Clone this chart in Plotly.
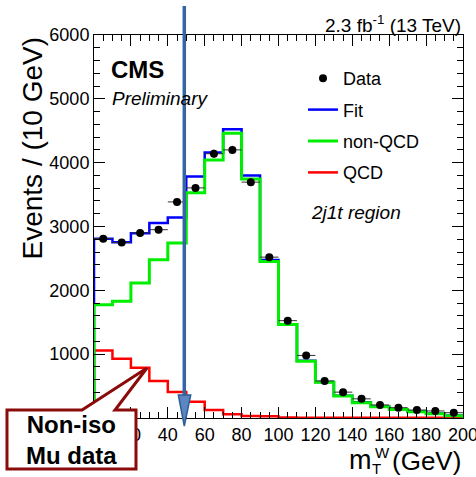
import plotly.graph_objects as go

# ---------------- data ----------------
bin_edges = [0, 10, 20, 30, 40, 50, 60, 70, 80, 90, 100,
             110, 120, 130, 140, 150, 160, 170, 180, 190, 200]
bin_centers = [5, 15, 25, 35, 45, 55, 65, 75, 85, 95,
               105, 115, 125, 135, 145, 155, 165, 175, 185, 195]

data_vals = [2810, 2750, 2900, 2950, 3385, 3605, 4140, 4200, 3695, 2520,
             1525, 980, 580, 405, 300, 205, 162, 125, 110, 83]
data_err = [53, 52, 54, 54, 58, 60, 64, 65, 61, 50,
            39, 31, 24, 20, 17, 14, 13, 11, 10, 9]
fit_vals = [2810, 2755, 2895, 3055, 3140, 3785, 4160, 4525, 3800, 2475,
            1470, 895, 565, 350, 245, 180, 137, 102, 72, 38]
nonqcd_vals = [1775, 1830, 2115, 2480, 2740, 3530, 4040, 4460, 3745, 2450,
               1465, 890, 560, 345, 240, 177, 133, 98, 68, 35]
qcd_vals = [1057, 927, 786, 578, 406, 255, 125, 60, 32, 28,
            6, 5, 5, 4, 4, 3, 3, 2, 2, 2]

x_ticks = [0, 20, 40, 60, 80, 100, 120, 140, 160, 180, 200]
x_ticklabels = ["", "20", "40", "60", "80", "100", "120", "140", "160", "180", "200"]
y_ticks = [0, 1000, 2000, 3000, 4000, 5000, 6000]
y_ticklabels = ["", "1000", "2000", "3000", "4000", "5000", "6000"]

FONT = "Liberation Sans, Arial, Helvetica, sans-serif"


def step_xy(edges, vals):
    xs = [edges[0]] + list(edges) + [edges[-1]]
    ys = [0] + list(vals) + [vals[-1], 0]
    return xs, ys


fig = go.Figure()

for name, vals, color, width, rank in [
    ("QCD", qcd_vals, "#ff0000", 2.5, 4),
    ("Fit", fit_vals, "#0000ff", 2.5, 2),
    ("non-QCD", nonqcd_vals, "#00ee00", 3, 3),
]:
    xs, ys = step_xy(bin_edges, vals)
    fig.add_trace(go.Scatter(
        x=xs, y=ys, mode="lines", name=name, line_shape="hv",
        line=dict(color=color, width=width), legendrank=rank,
        legendgroup=name,
    ))

fig.add_trace(go.Scatter(
    x=bin_centers, y=data_vals, mode="markers", name="Data",
    marker=dict(color="black", size=8),
    error_y=dict(type="data", array=data_err, color="#333333", thickness=1, width=0),
    error_x=dict(type="constant", value=5, color="#333333", thickness=1, width=0),
    legendrank=1, legendgroup="Data",
))

# geometry helpers (plot area in pixels)
L, R, T, B = 94, 463, 35, 418
W_, H_ = R - L, B - T


def px(x):
    return (x - L) / W_


def py(y):
    return (B - y) / H_


fig.update_layout(
    width=476, height=477,
    margin=dict(l=L, r=476 - R, t=T, b=477 - B, autoexpand=False),
    paper_bgcolor="white", plot_bgcolor="white",
    font=dict(family=FONT, color="black", size=18),
    showlegend=True,
    legend=dict(
        x=px(303), y=py(60), xanchor="left", yanchor="top",
        bgcolor="rgba(0,0,0,0)", font=dict(size=18, family=FONT),
        itemwidth=30, tracegroupgap=5, traceorder="grouped",
    ),
    xaxis=dict(
        range=[0, 200], tickvals=x_ticks, ticktext=x_ticklabels,
        ticks="inside", ticklen=11, tickwidth=1, tickcolor="black",
        showline=True, linecolor="black", linewidth=1, mirror="ticks",
        showgrid=False, zeroline=False, ticklabeloverflow="allow", automargin=False,
        minor=dict(dtick=5, ticks="inside", ticklen=6, tickcolor="black", showgrid=False),
        tickfont=dict(size=18), fixedrange=True,
    ),
    yaxis=dict(
        range=[0, 6000], tickvals=y_ticks, ticktext=y_ticklabels,
        ticks="inside", ticklen=11, tickwidth=1, tickcolor="black",
        showline=True, linecolor="black", linewidth=1, mirror="ticks",
        showgrid=False, zeroline=False, automargin=False,
        minor=dict(dtick=200, ticks="inside", ticklen=6, tickcolor="black", showgrid=False),
        tickfont=dict(size=18), fixedrange=True,
    ),
)

ann = []
ann.append(dict(text="Events / (10 GeV)", x=px(32), y=1.0, xref="paper", yref="paper",
                xanchor="center", yanchor="top", textangle=-90, showarrow=False,
                font=dict(size=28)))
ann.append(dict(text="2.3 fb<sup>-1</sup> (13 TeV)", x=1.0, y=py(24), xref="paper", yref="paper",
                xanchor="right", yanchor="middle", showarrow=False, font=dict(size=19)))
ann.append(dict(text="<b>CMS</b>", x=px(109), y=py(69), xref="paper", yref="paper",
                xanchor="left", yanchor="middle", showarrow=False, font=dict(size=24)))
ann.append(dict(text="<i>Preliminary</i>", x=px(110), y=py(99), xref="paper", yref="paper",
                xanchor="left", yanchor="middle", showarrow=False, font=dict(size=19)))
ann.append(dict(text="<i>2j1t region</i>", x=px(309), y=py(212), xref="paper", yref="paper",
                xanchor="left", yanchor="middle", showarrow=False, font=dict(size=19)))
# x-axis title pieces: m, stacked W / T, (GeV)
ann.append(dict(text="m", x=px(374), y=py(460), xref="paper", yref="paper",
                xanchor="right", yanchor="middle", showarrow=False, font=dict(size=27)))
ann.append(dict(text="W", x=px(373), y=py(452), xref="paper", yref="paper",
                xanchor="left", yanchor="middle", showarrow=False, font=dict(size=15)))
ann.append(dict(text="T", x=px(370), y=py(468), xref="paper", yref="paper",
                xanchor="left", yanchor="middle", showarrow=False, font=dict(size=15)))
ann.append(dict(text="(GeV)", x=1.0, y=py(461), xref="paper", yref="paper",
                xanchor="right", yanchor="middle", showarrow=False, font=dict(size=26)))
# callout text
ann.append(dict(text="<b>Non-iso<br>Mu data</b>", x=px(71), y=py(440), xref="paper", yref="paper",
                xanchor="center", yanchor="middle", showarrow=False, align="center",
                font=dict(size=24, color="black")))

shapes = []
# callout box with pointer
callout = [(7, 410), (82, 410), (147, 368), (115, 410), (136, 410), (136, 469), (7, 469)]
path = "M " + " L ".join(f"{px(a):.4f},{py(b):.4f}" for a, b in callout) + " Z"
shapes.append(dict(type="path", path=path, xref="paper", yref="paper",
                   fillcolor="white", line=dict(color="#8b0a0a", width=3), layer="above"))
# vertical arrow
shapes.append(dict(type="line", x0=px(184.3), x1=px(184.3), y0=py(6), y1=py(396),
                   xref="paper", yref="paper", line=dict(color="#3465a4", width=3.5), layer="above"))
head = [(178.3, 395), (190.7, 395), (184.3, 426)]
hpath = "M " + " L ".join(f"{px(a):.4f},{py(b):.4f}" for a, b in head) + " Z"
shapes.append(dict(type="path", path=hpath, xref="paper", yref="paper",
                   fillcolor="#5b86c2", line=dict(color="#2f5d96", width=1.5), layer="above"))

fig.update_layout(annotations=ann, shapes=shapes)

fig.write_html("out.html")
